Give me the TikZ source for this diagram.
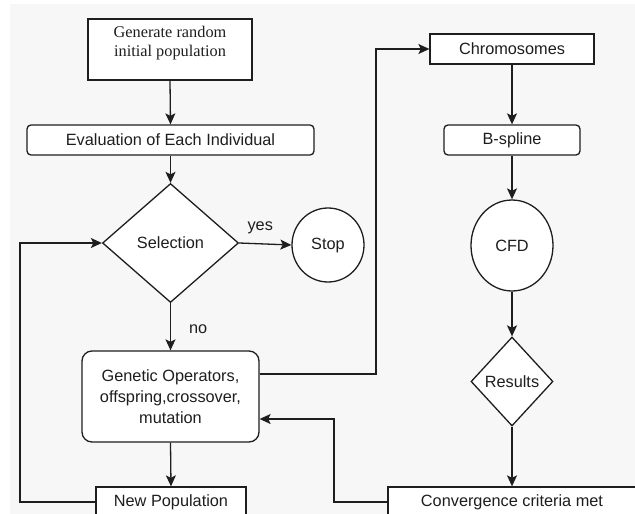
\documentclass[tikz,border=0pt]{standalone}
\usepackage{fontspec}
\setmainfont{Liberation Sans}
\newfontfamily\serifface{Liberation Serif}
\usetikzlibrary{shapes.geometric,arrows.meta}
\definecolor{bggrey}{HTML}{F7F7F7}
\definecolor{ink}{HTML}{1E1E1E}
\begin{document}
\begin{tikzpicture}[x=1pt,y=-1pt,
  every node/.style={font=\fontsize{16.3}{21}\selectfont, text=ink},
  base/.style={draw=ink, line width=1.3pt, fill=white, inner sep=0pt},
  sharpbox/.style={base, rectangle},
  roundbox/.style={base, rectangle, rounded corners=4pt},
  biground/.style={base, rectangle, rounded corners=10pt, align=center},
  decision/.style={base, diamond},
  terminal/.style={base, ellipse},
  conn/.style={draw=ink, line width=1.3pt},
  arr/.style={conn, -{Stealth[length=11pt,width=10pt,inset=2.5pt]}},
  lbl/.style={inner sep=0pt}
]
\useasboundingbox (0,0) rectangle (635,514);
\clip (0,0) rectangle (635,514);
\fill[white] (0,0) rectangle (635,514);
\fill[bggrey] (10,4) rectangle (636,515);

% left column
\node[sharpbox, minimum width=164pt, minimum height=61pt] (gen) at (170,49.5) {};
\node[lbl, align=center, font=\serifface\fontsize{16.3}{19}\selectfont] (gentxt) at ([yshift=6pt]gen.center) {Generate random\\initial population};
\node[roundbox, minimum width=287pt, minimum height=30pt] (eval) at (170.5,140) {Evaluation of Each Individual};
\node[decision, minimum width=136pt, minimum height=119pt] (sel) at (170.5,243) {Selection};
\node[terminal, minimum width=72pt, minimum height=74pt] (stop) at (328,245) {Stop};
\node[biground, minimum width=177pt, minimum height=91pt] (genop) at (170.5,396.5) {Genetic Operators,\\offspring,crossover,\\mutation};
\node[sharpbox, minimum width=150pt, minimum height=30pt] (newpop) at (171,502) {New Population};

% right column
\node[sharpbox, minimum width=164pt, minimum height=30pt] (chrom) at (512,49) {Chromosomes};
\node[roundbox, minimum width=136pt, minimum height=30pt] (bspl) at (512,140) {B-spline};
\node[terminal, minimum width=82pt, minimum height=91pt] (cfd) at (512,245.5) {CFD};
\node[decision, minimum width=82pt, minimum height=89pt] (res) at (512,381.5) {Results};
\node[sharpbox, minimum width=248pt, minimum height=30pt] (conv) at (512,502) {Convergence criteria met};

% helper coordinates
\coordinate (lc) at (20,400);
\coordinate (rc) at (376,200);
\coordinate (mc) at (334,460);

% connectors
\draw[arr] (gen.south) -- (eval.north);
\draw[arr] (eval.south) -- (sel.north);
\draw[arr] (sel.east) -- node[lbl, above, yshift=9pt, xshift=-5pt] {yes} (stop.west);
\draw[arr] (sel.south) -- node[lbl, right, xshift=18pt, yshift=-2pt] {no} (genop.north);
\draw[arr] (genop.south) -- (newpop.north);
\draw[arr] (newpop.west) -| (lc) |- (sel.west);
\draw[arr] ([yshift=22.5pt]genop.east) -| (rc) |- (chrom.west);
\draw[arr] (chrom.south) -- (bspl.north);
\draw[arr] (bspl.south) -- (cfd.north);
\draw[arr] (cfd.south) -- (res.north);
\draw[arr] (res.south) -- (conv.north);
\draw[arr] (conv.west) -| (mc) |- ([yshift=-22.5pt]genop.east);
\end{tikzpicture}
\end{document}
